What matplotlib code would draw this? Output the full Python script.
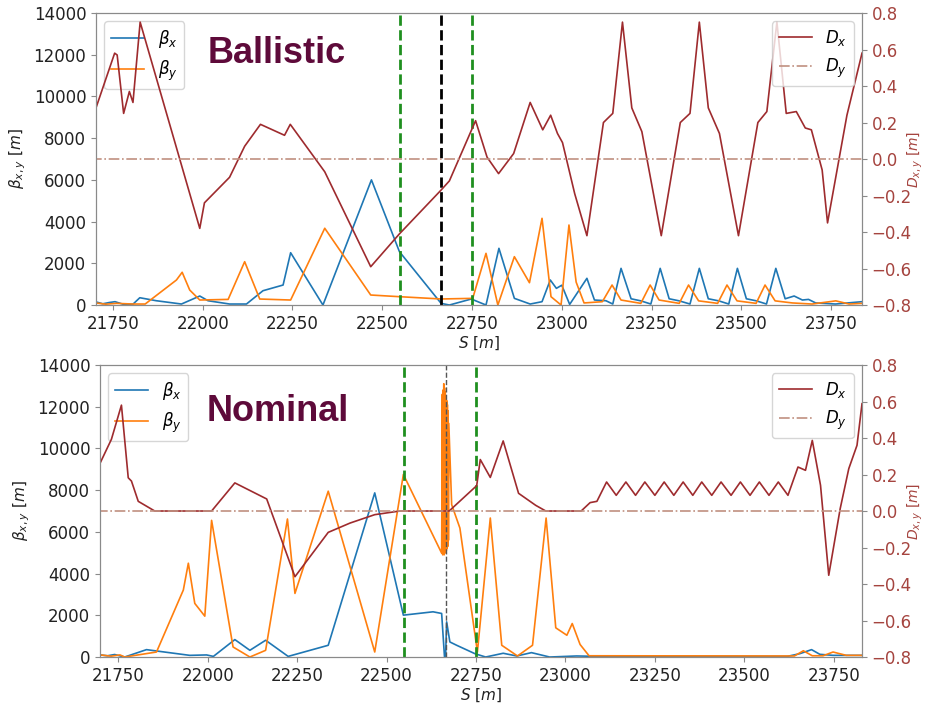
import matplotlib
matplotlib.use("Agg")
import matplotlib.pyplot as plt

# --- ballistic optics ---
bal_dx_s = [21703, 21755, 21762, 21780, 21796, 21806, 21826, 21992, 22005, 22075,
            22117, 22161, 22228, 22244, 22340, 22468, 22548, 22664, 22687, 22760,
            22792, 22824, 22866, 22912, 22947, 22969, 22988, 23002, 23036, 23070,
            23116, 23142, 23169, 23195, 23223, 23277, 23330, 23357, 23383, 23408,
            23439, 23492, 23546, 23571, 23599, 23625, 23653, 23678, 23695, 23725,
            23740, 23794, 23836]
bal_dx = [0.28, 0.58, 0.57, 0.25, 0.37, 0.31, 0.75, -0.38, -0.24, -0.10,
          0.07, 0.19, 0.13, 0.19, -0.07, -0.59, -0.41, -0.17, -0.12, 0.21,
          0.01, -0.08, 0.03, 0.31, 0.16, 0.24, 0.14, 0.09, -0.19, -0.42,
          0.20, 0.25, 0.75, 0.28, 0.15, -0.42, 0.20, 0.25, 0.75, 0.28,
          0.14, -0.42, 0.20, 0.26, 0.75, 0.25, 0.26, 0.17, 0.16, -0.06,
          -0.35, 0.24, 0.58]

bal_bx_s = [21703, 21722, 21740, 21756, 21780, 21806, 21825, 21871, 21941, 21992,
            22015, 22075, 22122, 22168, 22224, 22245, 22335, 22470, 22548, 22664,
            22687, 22748, 22789, 22825, 22868, 22912, 22945, 22968, 22985, 23000,
            23022, 23070, 23091, 23123, 23142, 23165, 23193, 23220, 23248, 23274,
            23299, 23327, 23357, 23383, 23408, 23437, 23465, 23489, 23514, 23542,
            23570, 23596, 23622, 23647, 23670, 23687, 23707, 23762, 23836]
bal_bx = [150, 60, 120, 160, 30, 40, 350, 206, 48, 432,
          206, 48, 48, 686, 959, 2508, 0, 6000, 2556, 80,
          0, 288, 0, 2718, 320, 48, 160, 1200, 800, 950,
          30, 1280, 240, 206, 48, 1758, 300, 200, 48, 1758,
          300, 200, 48, 1758, 300, 200, 48, 1758, 300, 200,
          48, 1758, 300, 432, 240, 270, 100, 48, 160]

bal_by_s = [21703, 21730, 21760, 21806, 21840, 21927, 21943, 21964, 21992, 22071,
            22117, 22159, 22245, 22340, 22468, 22548, 22664, 22752, 22789, 22822,
            22868, 22910, 22945, 22970, 22998, 23020, 23040, 23062, 23113, 23140,
            23165, 23220, 23246, 23271, 23327, 23353, 23381, 23434, 23460, 23488,
            23541, 23566, 23594, 23642, 23697, 23763, 23800, 23836]
bal_by = [100, 40, 80, 48, 48, 1199, 1570, 719, 240, 270,
          2078, 288, 240, 3680, 480, 400, 290, 320, 2478, 0,
          2318, 1070, 4157, 400, 0, 3836, 1100, 100, 160, 959,
          240, 80, 959, 240, 80, 959, 200, 80, 959, 200,
          80, 959, 200, 100, 48, 200, 48, 80]

# --- nominal optics ---
nom_dx_s = [21700, 21731, 21759, 21778, 21787, 21806, 21852, 22011, 22076, 22165,
            22244, 22337, 22398, 22467, 22537, 22675, 22752, 22762, 22790, 22826,
            22869, 22917, 22945, 23044, 23069, 23088,
            23115, 23142, 23169, 23196, 23222, 23250, 23276, 23303, 23329, 23356,
            23381, 23409, 23435, 23463, 23489, 23516, 23542, 23569, 23595, 23622,
            23650, 23671, 23690, 23713, 23736, 23768, 23792, 23815, 23829]
nom_dx = [0.265, 0.393, 0.58, 0.182, 0.164, 0.053, 0.0, 0.0, 0.154, 0.066,
          -0.36, -0.117, -0.066, -0.02, 0.0, 0.0, 0.139, 0.282, 0.184, 0.384,
          0.097, 0.031, 0.0, 0.0, 0.046, 0.053,
          0.159, 0.086, 0.159, 0.086, 0.159, 0.086, 0.159, 0.086, 0.159, 0.086,
          0.159, 0.086, 0.159, 0.086, 0.159, 0.086, 0.159, 0.086, 0.159, 0.086,
          0.241, 0.223, 0.387, 0.141, -0.352, 0.013, 0.232, 0.36, 0.588]

nom_bx_s = [21700, 21720, 21740, 21768, 21829, 21857, 21950, 21997, 22016, 22076,
            22118, 22162, 22225, 22337, 22467, 22547, 22630, 22654, 22662, 22665,
            22668, 22677, 22696, 22747, 22777, 22826, 22864, 22905, 22956, 23031,
            23096, 23620, 23655, 23688, 23711, 23748, 23829]
nom_bx = [100, 60, 120, 0, 354, 290, 80, 100, 30, 836,
          322, 804, 30, 563, 7869, 2007, 2168, 2088, 0, 0,
          1686, 722, 563, 160, 0, 180, 50, 210, 0, 50,
          30, 30, 160, 354, 130, 80, 80]

nom_by_s = [21700, 21730, 21755, 21768, 21857, 21932, 21946, 21964, 21992, 22011,
            22071, 22118, 22162, 22223, 22244, 22337, 22467, 22547, 22654,
            22656, 22657, 22658, 22659, 22660, 22661, 22662, 22663, 22664, 22665,
            22666, 22667, 22668, 22669, 22670, 22671, 22672, 22673, 22674,
            22682, 22705, 22754, 22790, 22822, 22866, 22908, 22946, 22973, 23004,
            23019, 23041, 23066, 23640, 23665, 23690, 23720, 23748, 23785, 23829]
nom_by = [100, 40, 100, 0, 240, 3212, 4497, 2570, 1959, 6552,
          482, 0, 321, 6617, 3050, 7950, 241, 8753, 4980,
          12600, 4900, 12800, 5000, 13100, 4900, 12900, 5000, 12700, 5000,
          12500, 5100, 12300, 5200, 12100, 5300, 11800, 5600, 11200,
          7306, 6183, 240, 6664, 563, 50, 563, 6664, 1400, 1044,
          1606, 600, 60, 50, 300, 60, 60, 240, 80, 80]

dy_s = [21690, 23850]
dy = [0.0, 0.0]

ip_markers = [22550, 22750]
ip_center = 22665

panels = [
    ("Ballistic", bal_bx_s, bal_bx, bal_by_s, bal_by, bal_dx_s, bal_dx,
     [0.1032, 0.5661, 0.8237, 0.4154], (21703, 23836), (208, 63)),
    ("Nominal", nom_bx_s, nom_bx, nom_by_s, nom_by, nom_dx_s, nom_dx,
     [0.1075, 0.0654, 0.8194, 0.4154], (21699, 23829), (207, 421)),
]

c_bx = "#1f77b4"
c_by = "#ff7f0e"
c_dx = "#9e2b2e"
c_dy = "#c09080"
c_right = "#a5443f"
c_title = "#5e0a3a"
c_spine = "#8a8a8a"

W, H = 930, 703
fig = plt.figure(figsize=(W / 100, H / 100), dpi=100)

for k, (name, bxs, bx, bys, by, dxs, dx, rect, xl, tpos) in enumerate(panels):
    ax = fig.add_axes(rect)
    ax.plot(bxs, bx, "-", lw=1.2, color=c_bx, label=r"$\beta_x$")
    ax.plot(bys, by, "-", lw=1.2, color=c_by, label=r"$\beta_y$")
    for s in ip_markers:
        ax.axvline(s, ls="--", lw=2, color="#1f8f1f")
    if k == 0:
        ax.axvline(ip_center, ls="--", lw=2, color="k")
    else:
        ax.axvline(ip_center, ls="--", lw=1, color="#555555")
    ax.set_xlim(*xl)
    ax.set_ylim(0, 14000)
    ax.set_xticks([21750, 22000, 22250, 22500, 22750, 23000, 23250, 23500, 23750])
    ax.set_ylabel(r"$\beta_{x,y}\ [m]$", fontsize=11, color="#222222")
    ax.set_xlabel(r"$S\ [m]$", fontsize=11, color="#222222", labelpad=1)
    ax.tick_params(labelsize=12, colors=c_spine, labelcolor="#222222")
    ax.legend(loc="upper left", fontsize=12)

    ax2 = ax.twinx()
    ax2.plot(dxs, dx, "-", lw=1.2, color=c_dx, label=r"$D_x$")
    ax2.plot(dy_s, dy, "-.", lw=1.2, color=c_dy, label=r"$D_y$")
    ax2.set_ylim(-0.8, 0.8)
    ax2.set_ylabel(r"$D_{x,y}\ [m]$", fontsize=10, color=c_right)
    # keep the rotated label clear of the right edge of the canvas
    ax2.yaxis.set_label_coords((906 - rect[0] * W) / (rect[2] * W), 0.5)
    ax2.tick_params(labelsize=12, colors=c_spine, labelcolor=c_right)
    ax2.legend(loc="upper right", fontsize=12)

    for a in (ax, ax2):
        for sp in a.spines.values():
            sp.set_color(c_spine)

    fig.text(tpos[0] / W, 1 - tpos[1] / H, name, fontsize=26, fontweight="bold",
             family=["Liberation Sans", "DejaVu Sans"], color=c_title,
             va="baseline", zorder=10)

fig.savefig("out.png", dpi=100)
